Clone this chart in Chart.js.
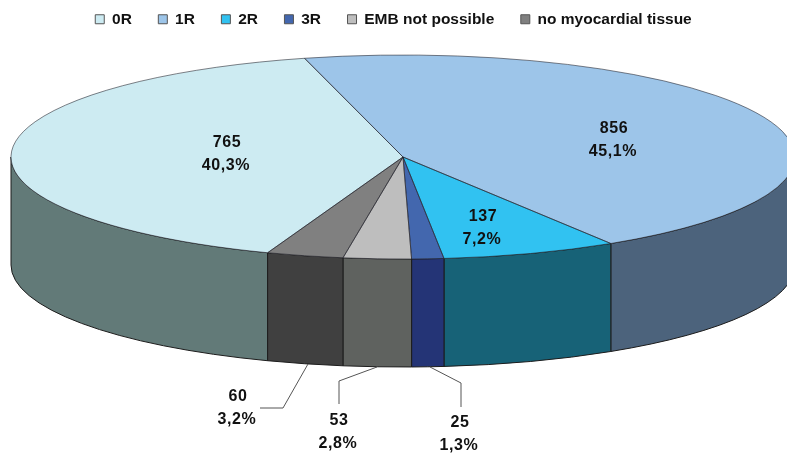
<!DOCTYPE html>
<html>
<head>
<meta charset="utf-8">
<title>EMB grades</title>
<script src="https://cdn.jsdelivr.net/npm/chart.js@4"></script>
<style>
  html, body { margin: 0; padding: 0; background: #fff; }
  canvas { display: block; }
</style>
</head>
<body>
<canvas id="pieChart" width="787" height="455"></canvas>
<script>
// data
const categories = ["0R", "1R", "2R", "3R", "EMB not possible", "no myocardial tissue"];
const counts = [765, 856, 137, 25, 53, 60];
const percents = ["40,3%", "45,1%", "7,2%", "1,3%", "2,8%", "3,2%"];
const topColors = ["#CDEBF2", "#9DC5E9", "#31C2F1", "#4367AE", "#BEBEBE", "#808080"];
const wallColors = ["#627A78", "#4C637C", "#176277", "#243476", "#5F625F", "#404040"];

// where the flat pie ends up on the page
const view = { cx: 403, cy: 157, rx: 392, ry: 102, depth: 108 };

// text placement, same order as categories
const labelSpots = [[227, 143], [614, 129], [483, 217], [460, 423], [339, 421], [238, 397]];
const leaders = {
  3: [[430, 367], [461, 383], [461, 407]],
  4: [[377, 367], [339, 381], [339, 404]],
  5: [[308, 364], [283, 408], [260, 408]]
};

const pie3d = {
  id: "pie3d",
  afterLayout(chart) {
    // legend sits right under the top edge, labels.padding would push it down
    chart.legend.top = -15;
  },
  beforeDatasetsDraw(chart) {
    const ctx = chart.ctx;
    const arcs = chart.getDatasetMeta(0).data;
    const TWO_PI = Math.PI * 2;

    // side walls, only the front half of the ellipse is visible
    arcs.forEach((arc, i) => {
      let start = arc.startAngle % TWO_PI;
      if (start < 0) start += TWO_PI;
      const end = start + (arc.endAngle - arc.startAngle);
      [0, TWO_PI].forEach(shift => {
        const a0 = Math.max(start, shift);
        const a1 = Math.min(end, shift + Math.PI);
        if (a1 <= a0) return;
        ctx.beginPath();
        ctx.ellipse(view.cx, view.cy, view.rx, view.ry, 0, a0, a1);
        ctx.ellipse(view.cx, view.cy + view.depth, view.rx, view.ry, 0, a1, a0, true);
        ctx.closePath();
        ctx.fillStyle = wallColors[i];
        ctx.fill();
        ctx.strokeStyle = "#1c1c1c";
        ctx.lineWidth = 1;
        ctx.stroke();
      });
    });

    // squash the flat pie into the top ellipse
    const first = arcs[0];
    const r = first.outerRadius;
    ctx.save();
    ctx.translate(view.cx, view.cy);
    ctx.scale(view.rx / r, view.ry / r);
    ctx.translate(-first.x, -first.y);
  },
  afterDatasetsDraw(chart) {
    const ctx = chart.ctx;
    ctx.restore();
    const arcs = chart.getDatasetMeta(0).data;

    // slice outlines, done here so the line width is not squashed
    arcs.forEach(arc => {
      ctx.beginPath();
      ctx.moveTo(view.cx, view.cy);
      ctx.ellipse(view.cx, view.cy, view.rx, view.ry, 0, arc.startAngle, arc.endAngle);
      ctx.closePath();
      ctx.strokeStyle = "rgba(30,30,40,0.7)";
      ctx.lineWidth = 0.8;
      ctx.stroke();
    });

    // leader lines
    ctx.strokeStyle = "#555";
    ctx.lineWidth = 1;
    Object.values(leaders).forEach(pts => {
      ctx.beginPath();
      pts.forEach((p, n) => (n ? ctx.lineTo(p[0], p[1]) : ctx.moveTo(p[0], p[1])));
      ctx.stroke();
    });

    // value labels
    ctx.fillStyle = "#111";
    ctx.font = "bold 16px 'Liberation Sans', Arial, sans-serif";
    ctx.letterSpacing = "0.6px";
    ctx.textAlign = "center";
    ctx.textBaseline = "middle";
    labelSpots.forEach((p, i) => {
      ctx.fillText(String(counts[i]), p[0], p[1]);
      ctx.fillText(percents[i], p[0] - 1, p[1] + 23);
    });
    ctx.letterSpacing = "0px";
  }
};

new Chart(document.getElementById("pieChart"), {
  type: "pie",
  data: {
    labels: categories,
    datasets: [{
      data: counts,
      backgroundColor: topColors,
      borderWidth: 0
    }]
  },
  plugins: [pie3d],
  options: {
    responsive: false,
    animation: false,
    rotation: 200.2,
    layout: { padding: 0 },
    plugins: {
      tooltip: { enabled: false },
      legend: {
        position: "top",
        labels: {
          boxWidth: 9,
          boxHeight: 9,
          padding: 26.5,
          color: "#111",
          font: { family: "'Liberation Sans', Arial, sans-serif", size: 15.5, weight: "bold" },
          generateLabels(chart) {
            return Chart.overrides.pie.plugins.legend.labels.generateLabels(chart).map(item => {
              item.strokeStyle = "#555";
              item.lineWidth = 1;
              return item;
            });
          }
        }
      }
    }
  }
});
</script>
</body>
</html>
